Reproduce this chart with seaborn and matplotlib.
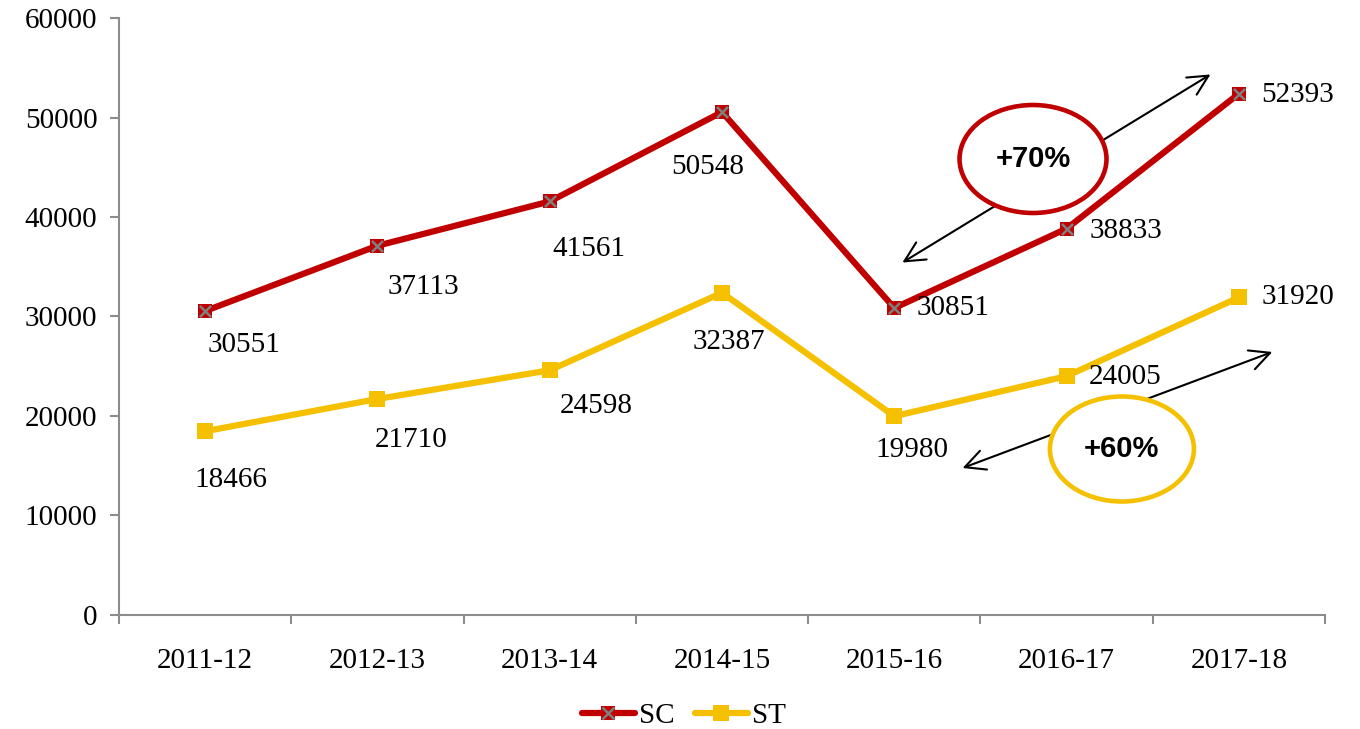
import matplotlib

matplotlib.use("Agg")

import matplotlib.pyplot as plt
import numpy as np
import pandas as pd
import seaborn as sns
from matplotlib.legend_handler import HandlerTuple
from matplotlib.lines import Line2D
from matplotlib.patches import Ellipse


YEARS = ["2011-12", "2012-13", "2013-14", "2014-15", "2015-16", "2016-17", "2017-18"]
SC_VALUES = [30551, 37113, 41561, 50548, 30851, 38833, 52393]
ST_VALUES = [18466, 21710, 24598, 32387, 19980, 24005, 31920]

# label offsets from each point, in pixels (x right, y up)
SC_OFFSETS = [(39, -34), (46, -41), (39, -48), (-14, -55), (59, 0), (59, -2), (59, -1)]
ST_OFFSETS = [(26, -49), (34, -41), (47, -36), (7, -49), (18, -34), (59, -1), (59, 0)]

RED = "#C00000"
GOLD = "#F5C000"
GREY = "#808080"
SPINE = "#8C8C8C"
FS = 21

sns.set_theme(style="white", rc={"text.color": "black", "axes.labelcolor": "black",
                                 "xtick.color": "black", "ytick.color": "black"})
plt.rcParams["font.family"] = ["Liberation Serif", "DejaVu Serif"]

df = pd.DataFrame({"pos": np.arange(len(YEARS)), "year": YEARS, "SC": SC_VALUES, "ST": ST_VALUES})

fig = plt.figure(figsize=(13.6, 7.29), dpi=100)
ax = fig.add_axes([0.0875, 0.1564, 0.9743 - 0.0875, 0.9753 - 0.1564])

sns.lineplot(data=df, x="pos", y="SC", ax=ax, color=RED, linewidth=4.5, marker="s",
             markersize=10, markeredgewidth=0, zorder=3)
sns.scatterplot(data=df, x="pos", y="SC", ax=ax, marker="x", s=64, color=GREY, linewidth=1.8, zorder=4)
sns.lineplot(data=df, x="pos", y="ST", ax=ax, color=GOLD, linewidth=4.5, marker="s",
             markersize=11, markeredgewidth=0, zorder=3)

for i, (v, off) in enumerate(zip(df["SC"], SC_OFFSETS)):
    ax.annotate(f"{v}", (i, v), xytext=off, textcoords="offset pixels",
                ha="center", va="center", fontsize=FS, color="black")
for i, (v, off) in enumerate(zip(df["ST"], ST_OFFSETS)):
    ax.annotate(f"{v}", (i, v), xytext=off, textcoords="offset pixels",
                ha="center", va="center", fontsize=FS, color="black")

# growth callouts
ax.annotate("", xy=(4.033, 35276), xytext=(5.849, 54472),
            arrowprops=dict(arrowstyle="<->", color="black", lw=1.5, mutation_scale=36), zorder=2)
ax.add_patch(Ellipse((4.805, 45829), 0.853, 10854, facecolor="white", edgecolor=RED, lw=3.3, zorder=5))
ax.text(4.805, 45829, "+70%", ha="center", va="center", fontsize=FS, fontweight="bold", color="black",
        family=["Liberation Sans", "DejaVu Sans"], zorder=6)

ax.annotate("", xy=(4.381, 14673), xytext=(6.209, 26533),
            arrowprops=dict(arrowstyle="<->", color="black", lw=1.5, mutation_scale=36), zorder=2)
ax.add_patch(Ellipse((5.321, 16683), 0.836, 10553, facecolor="white", edgecolor=GOLD, lw=3.3, zorder=5))
ax.text(5.321, 16683, "+60%", ha="center", va="center", fontsize=FS, fontweight="bold", color="black",
        family=["Liberation Sans", "DejaVu Sans"], zorder=6)

ax.set_xlim(-0.5, len(YEARS) - 0.5)
ax.set_ylim(0, 60000)
ax.set_yticks(range(0, 60001, 10000))
ax.set_xticks(df["pos"])
ax.set_xticklabels(YEARS)
ax.set_xticks(np.arange(len(YEARS) + 1) - 0.5, minor=True)
ax.tick_params(axis="x", which="major", length=0, pad=24, labelsize=FS, labelcolor="black")
ax.tick_params(axis="x", which="minor", length=6.5, width=1.5, color=SPINE, direction="out", bottom=True)
ax.tick_params(axis="y", length=6.5, width=1.5, color=SPINE, direction="out", left=True, pad=9,
               labelsize=FS, labelcolor="black")
ax.set_xlabel("")
ax.set_ylabel("")
for side in ["top", "right"]:
    ax.spines[side].set_visible(False)
for side in ["left", "bottom"]:
    ax.spines[side].set_color(SPINE)
    ax.spines[side].set_linewidth(1.5)
ax.grid(False)

sc_handle = (Line2D([], [], color=RED, lw=4.5, marker="s", markersize=10, markeredgewidth=0),
             Line2D([], [], color=GREY, lw=0, marker="x", markersize=8, markeredgewidth=1.8))
st_handle = Line2D([], [], color=GOLD, lw=4.5, marker="s", markersize=11, markeredgewidth=0)
fig.legend([sc_handle, st_handle], ["SC", "ST"], handler_map={tuple: HandlerTuple(ndivide=1)},
           loc="center", bbox_to_anchor=(0.503, 0.018), ncol=2, frameon=False, fontsize=FS,
           handlelength=1.8, handletextpad=0.15, columnspacing=0.7, borderaxespad=0)

fig.savefig("out.png", dpi=100, facecolor="white")
